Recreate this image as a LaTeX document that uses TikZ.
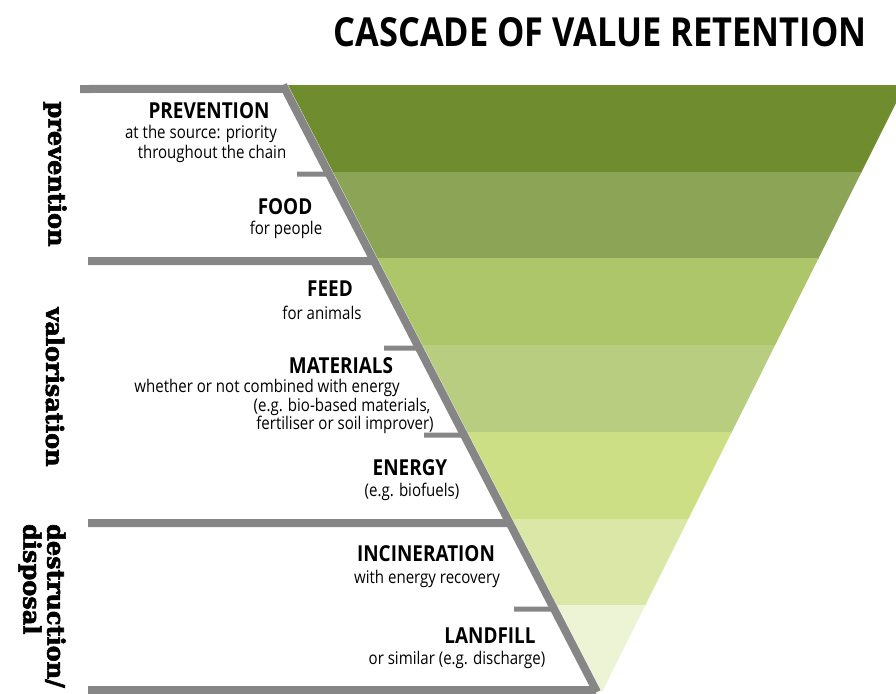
\documentclass[tikz,border=0pt]{standalone}
\usepackage{fontspec}
\setmainfont[FakeStretch=0.86]{Open Sans}
\newfontfamily\slabfont[FakeBold=2.5]{DejaVu Serif}
\usetikzlibrary{calc}

\definecolor{bargray}{HTML}{858685}
\definecolor{lvla}{HTML}{6F8C2E}
\definecolor{lvlb}{HTML}{8BA456}
\definecolor{lvlc}{HTML}{AEC66A}
\definecolor{lvld}{HTML}{B8CD7F}
\definecolor{lvle}{HTML}{CDDF85}
\definecolor{lvlf}{HTML}{DAE7A6}
\definecolor{lvlg}{HTML}{EDF3D5}

\begin{document}
\begin{tikzpicture}[x=1pt,y=-1pt,
  bar/.style={bargray,line width=8pt},
  tick/.style={bargray,line width=5pt},
  head/.style={inner sep=0pt,font=\fontsize{22}{24}\selectfont\bfseries},
  sub/.style={inner sep=0pt,font=\fontsize{17.5}{20}\selectfont},
  side/.style={font=\fontsize{24}{24}\selectfont\slabfont\bfseries,rotate=-90}]

\useasboundingbox (0,0) rectangle (896,693);

\coordinate (tl) at (288,85);
\coordinate (tr) at (905,85);
\coordinate (apex) at (602,692);
\coordinate (s1) at (283,85);
\coordinate (s2) at (597,692);

% funnel bands
\begin{scope}
\clip (tl) -- (tr) -- (apex) -- cycle;
\foreach \c [count=\i from 0] in {lvla,lvlb,lvlc,lvld,lvle,lvlf,lvlg}
  \fill[\c] (250,85+\i*86.72) rectangle (910,85+\i*86.72+87.5);
\end{scope}

% gray frame
\draw[bar] (s1) -- (s2);
\foreach \y/\x in {89/80, 261/88, 523/88, 690/88}
  \draw[bar] (\x,\y) -- ($(s1)!{(\y-85)/607}!(s2)$);
\foreach \y/\x in {174/297, 348/384, 435/424, 609/514}
  \draw[tick] (\x,\y) -- ($(s1)!{(\y-85)/607}!(s2)$);

\node[font=\fontsize{40}{40}\selectfont\bfseries] (title) at (600,32) {CASCADE OF VALUE RETENTION};

\node[head] (prev) at (209,111) {PREVENTION};
\node[sub] (prev1) at (201,134) {at the source: priority};
\node[sub] (prev2) at (212,154) {throughout the chain};

\node[head] (food) at (285,207) {FOOD};
\node[sub] (food1) at (286,230) {for people};

\node[head] (feed) at (330,289) {FEED};
\node[sub] (feed1) at (322,313) {for animals};

\node[head] (mat) at (341,366) {MATERIALS};
\node[sub] (mat1) at (267,388) {whether or not combined with energy};
\node[sub] (mat2) at (342,407) {(e.g. bio-based materials,};
\node[sub] (mat3) at (345,425) {fertiliser or soil improver)};

\node[head] (energy) at (410,468) {ENERGY};
\node[sub] (energy1) at (412,492) {(e.g. biofuels)};

\node[head] (incin) at (426,554) {INCINERATION};
\node[sub] (incin1) at (427,579) {with energy recovery};

\node[head] (land) at (490,636) {LANDFILL};
\node[sub] (land1) at (457,660) {or similar (e.g. discharge)};

\node[side] (sprev) at (55,174) {prevention};
\node[side] (sval) at (55,387) {valorisation};
\node[side,align=left] (sdest) at (42,606) {destruction/\\disposal};

\end{tikzpicture}
\end{document}
